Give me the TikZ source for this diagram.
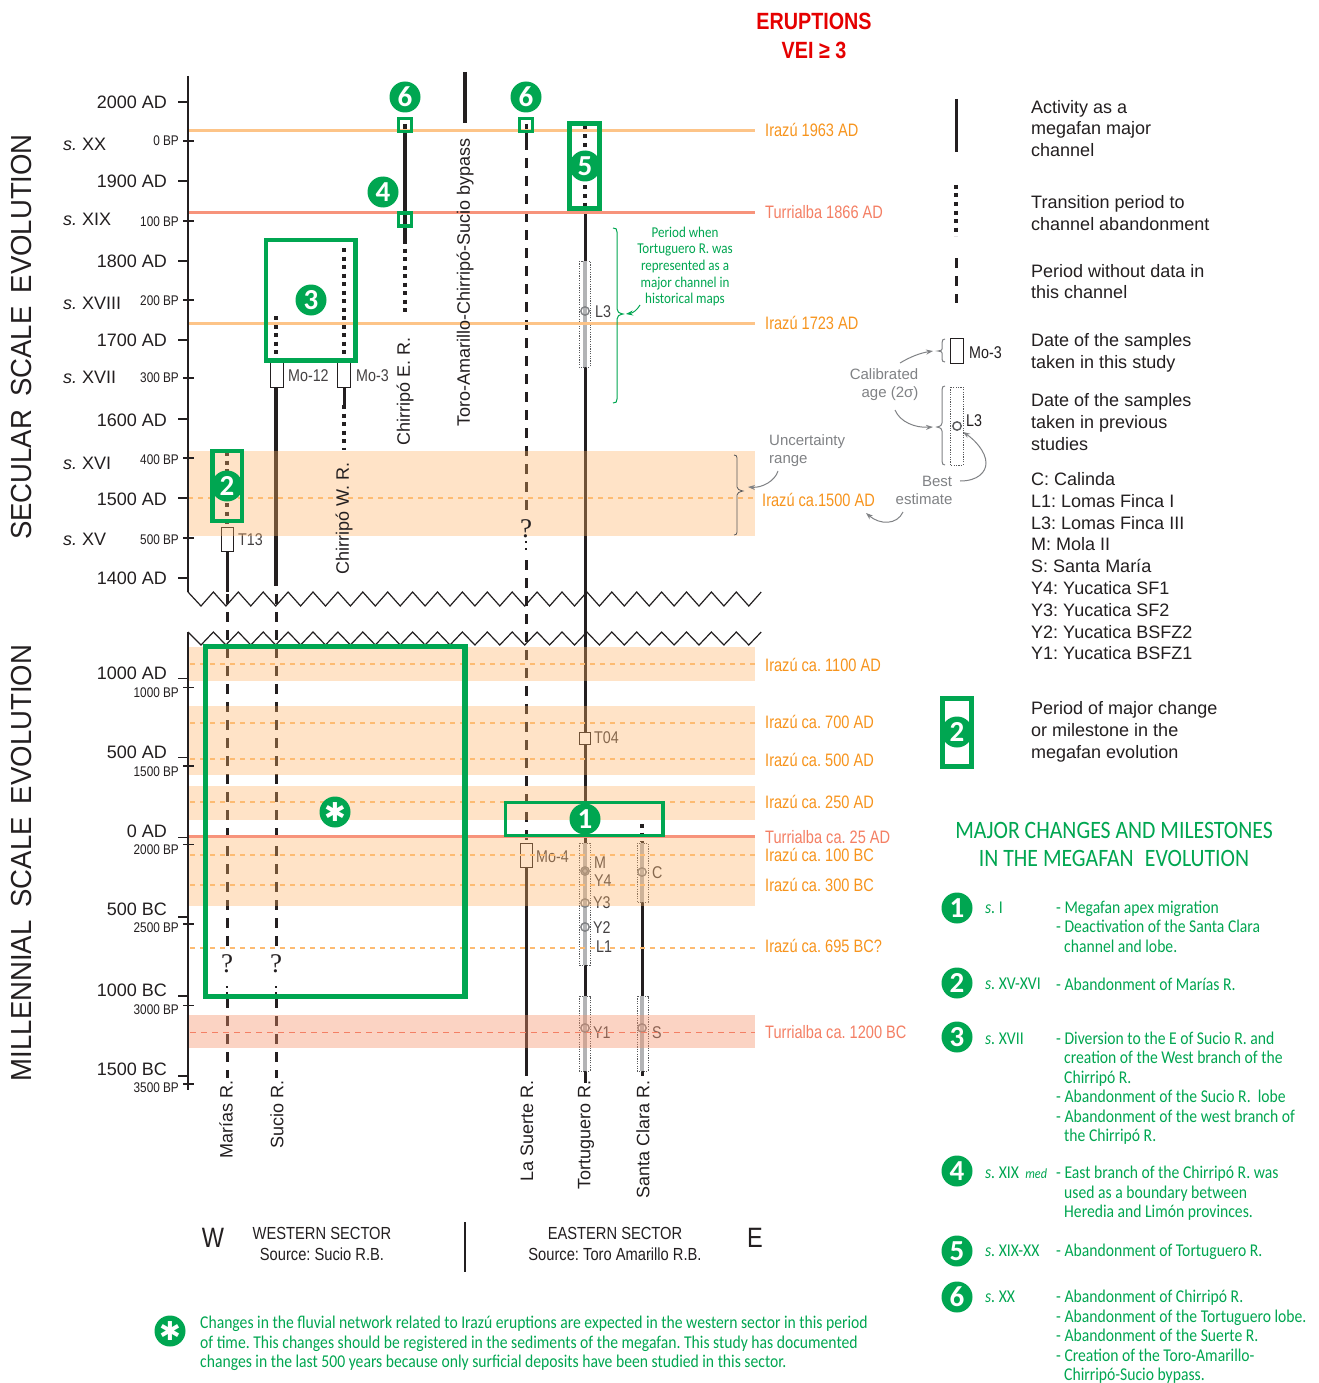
\documentclass[tikz,border=0pt]{standalone}
\usepackage{fontspec}
\setmainfont{Liberation Sans}
\newfontfamily\cnf[FakeStretch=0.84]{Liberation Sans}
\newfontfamily\onf[FakeStretch=0.81]{Liberation Sans}
\newfontfamily\bigf[FakeStretch=0.95]{Liberation Sans}
\newfontfamily\grf[FakeStretch=0.87]{Carlito}
\newfontfamily\bdf{Carlito}
\newfontfamily\srf{Liberation Serif}
\newfontfamily\djv{DejaVu Sans}
\usepackage{tikz}
\usetikzlibrary{arrows.meta}
\definecolor{gn}{HTML}{00A651}
\definecolor{ink}{HTML}{231F20}
\definecolor{og}{HTML}{F7941D}
\definecolor{tu}{HTML}{F47F64}
\definecolor{ol}{HTML}{FDC488}
\definecolor{od}{HTML}{FDBB72}
\definecolor{sl}{HTML}{F7937B}
\definecolor{bandc}{RGB}{255,176,99}
\definecolor{bandt}{RGB}{245,145,105}
\definecolor{gy}{HTML}{808285}
\definecolor{dg}{HTML}{58595B}
\newcommand\fz[1]{\fontsize{#1}{#1}\selectfont}
\newcounter{nc}
% \tl[style]{x}{y}{text}
\newcommand\tl[4][]{\stepcounter{nc}\node[txt,#1] (n\arabic{nc}) at (#2,#3) {#4};}
\newcommand\bdg[3]{\stepcounter{nc}\node[badge] (n\arabic{nc}) at (#1,#2) {#3};}
\tikzset{
 txt/.style={inner sep=0pt,anchor=west,text=ink,font=\fz{18}},
 ax/.style={txt,anchor=east,font=\fz{18}},
 bp/.style={txt,anchor=east,font=\cnf\fz{14}},
 rn/.style={txt,rotate=90,anchor=east,font=\fz{18}},
 orn/.style={txt,text=og,font=\onf\fz{18}},
 trn/.style={txt,text=tu,font=\onf\fz{18}},
 gt/.style={txt,text=gn,font=\grf\fz{18},text height=13pt,text depth=4pt,yshift=-1.5pt},
 smp/.style={txt,text=ink!85,font=\cnf\fz{17}},
 leg/.style={txt,font=\fz{18},text height=13pt,text depth=3.5pt,yshift=-2pt},
 gyt/.style={txt,text=gy,font=\fz{15},text height=11pt,text depth=3pt},
 badge/.style={circle,fill=gn,text=white,inner sep=0pt,minimum size=31pt,font=\bdf\bfseries\fz{29}},
 solidr/.style={ink,line width=3pt},
 thickr/.style={ink,line width=4pt},
 dashr/.style={ink,line width=3pt,dash pattern=on 10pt off 8pt},
 dotr/.style={ink,line width=3.5pt,dash pattern=on 4pt off 4.5pt},
 gb/.style={draw=gn,line width=4.5pt},
 dbox/.style={draw=dg,line width=.7pt,dash pattern=on 1.2pt off 1.2pt,fill=white},
 cal/.style={draw=ink,line width=1pt,fill=white},
 core/.style={draw=gy!60,line width=3.5pt},
 est/.style={draw=gy,line width=1.4pt},
 solv/.style={line width=3pt},
 odash/.style={od,line width=2.6pt,dash pattern=on 5pt off 5pt},
 grar/.style={gy,line width=1pt,-{Stealth[length=7pt,width=5pt]}},
 grnar/.style={gn,line width=1pt,-{Stealth[length=7pt,width=5pt]}},
}
\begin{document}
\frenchspacing
\begin{tikzpicture}[x=1pt,y=-1pt]
\useasboundingbox (0,0) rectangle (1318,1383);
\fill[white] (0,0) rectangle (1318,1383);

% rivers
\draw[dotr] (227,452) -- (227,527);
\draw[solidr] (227,551) -- (227,592);
\draw[dashr] (227,594) -- (227,952);
\draw[dashr] (227,998) -- (227,1078);
\draw[ink,line width=2.5pt,dash pattern=on 2pt off 4pt] (227,986) -- (227,994);
\draw[dotr] (276,316) -- (276,362);
\draw[thickr] (276,387) -- (276,586);
\draw[dashr] (276,594) -- (276,952);
\draw[dashr] (276,998) -- (276,1078);
\draw[ink,line width=2.5pt,dash pattern=on 2pt off 4pt] (276,986) -- (276,994);
\draw[dotr] (344,248) -- (344,362);
\draw[solidr] (344,387) -- (344,405);
\draw[dotr] (344,405) -- (344,450);
\draw[thickr] (405,124) -- (405,240);
\draw[dotr] (405,240) -- (405,316);
\draw[line width=3.5pt,ink] (465,72) -- (465,123);
\draw[solidr] (526,124) -- (526,140);
\draw[dashr] (526,140) -- (526,515);
\draw[ink,line width=2.5pt,dash pattern=on 2pt off 5pt] (526,541) -- (526,553);
\draw[dashr] (526,560) -- (526,843);
\draw[solidr] (526,867) -- (526,1076);
\draw[dotr] (585,126) -- (585,212);
\draw[solidr] (585,212) -- (585,1083);
\draw[dotr] (642,824) -- (642,842);
\draw[solidr] (642,842) -- (642,1076);

% sample boxes
\draw[dbox] (579,261) rectangle (590,367); \draw[core] (585,261) -- (585,367);
\draw[dbox] (579,843) rectangle (590,965); \draw[core] (585,843) -- (585,965);
\draw[dbox] (579,996) rectangle (590,1071); \draw[core] (585,996) -- (585,1071);
\draw[dbox] (637,843) rectangle (648,902); \draw[core] (642,843) -- (642,902);
\draw[dbox] (637,996) rectangle (648,1071); \draw[core] (642,996) -- (642,1071);
\draw[cal] (221,527) rectangle (233,551);
\draw[cal] (270.5,362) rectangle (283,387);
\draw[cal] (337.5,362) rectangle (350,387);
\draw[cal] (520,843) rectangle (532,867);
\draw[cal] (579,732) rectangle (590,744);
\foreach \p in {(585,311),(585,871),(585,903),(585,927),(585,1028),(642,872),(642,1028)} \draw[est] \p circle (4.2pt);
\draw[est] (585,871) circle (2.5pt);

% sample labels
\tl[smp]{288}{376}{Mo-12}
\tl[smp]{356}{376}{Mo-3}
\tl[smp]{238}{540}{T13}
\tl[smp]{595}{312}{L3}
\tl[smp]{594}{738}{T04}
\tl[smp]{536}{857}{Mo-4}
\tl[smp]{594}{863}{M}
\tl[smp]{594}{881}{Y4}
\tl[smp]{593}{903}{Y3}
\tl[smp]{593}{928}{Y2}
\tl[smp]{596}{947}{L1}
\tl[smp]{593}{1033}{Y1}
\tl[smp]{652}{873}{C}
\tl[smp]{652}{1033}{S}

% bands
\fill[bandc,fill opacity=.354] (188.5,451) rectangle (755,536);
\fill[bandc,fill opacity=.354] (188.5,647) rectangle (755,681);
\fill[bandc,fill opacity=.354] (188.5,706) rectangle (755,775);
\fill[bandc,fill opacity=.354] (188.5,786) rectangle (755,820);
\fill[bandc,fill opacity=.354] (188.5,836) rectangle (755,906);
\fill[bandt,fill opacity=.4] (188.5,1015) rectangle (755,1048);

% eruption lines
\draw[ol,line width=3pt] (188,131) -- (755,131);
\draw[sl,line width=3pt] (188,212) -- (755,212);
\draw[ol,line width=3pt] (188,323) -- (755,323);
\draw[odash] (188,498) -- (755,498);
\foreach \y in {664,723,759,802,855,885,948} \draw[odash] (190,\y) -- (755,\y);
\draw[sl,line width=3pt] (188,836) -- (755,836);
\draw[tu,line width=1pt,dash pattern=on 6pt off 5pt] (190,1032) -- (755,1032);

% axis and breaks
\draw[ink,line width=2pt] (188,76) -- (188,592);
\draw[ink,line width=1.4pt] (188,632) -- (188,1090);
\draw[ink,line width=1.2pt] (188,592) \foreach \i in {0,...,22} { -- ({201+24.9*\i},606) -- ({213.4+24.9*\i},592) };
\draw[ink,line width=1.2pt] (188,632) \foreach \i in {0,...,22} { -- ({201+24.9*\i},645) -- ({213.4+24.9*\i},632) };
\foreach \y in {102,181,261,340,419,498,578,678.5,757.5,837.5,917,996,1076} \draw[ink,line width=1.5pt] (178,\y) -- (189,\y);
\foreach \y in {141,221,300,378,458,538,687.5,766,844.5,924,1005.5,1084} \draw[ink,line width=1.5pt] (183,\y) -- (194,\y);
\tl[ax]{167}{102}{2000 AD}
\tl[ax]{167}{181}{1900 AD}
\tl[ax]{167}{261}{1800 AD}
\tl[ax]{167}{340}{1700 AD}
\tl[ax]{167}{420}{1600 AD}
\tl[ax]{167}{499}{1500 AD}
\tl[ax]{167}{578}{1400 AD}
\tl[ax]{167}{673}{1000 AD}
\tl[ax]{167}{752}{500 AD}
\tl[ax]{167}{831}{0 AD}
\tl[ax]{167}{909}{500 BC}
\tl[ax]{167}{990}{1000 BC}
\tl[ax]{167}{1069}{1500 BC}
\tl[bp]{179}{141}{0 BP}
\tl[bp]{179}{222}{100 BP}
\tl[bp]{179}{301}{200 BP}
\tl[bp]{179}{378}{300 BP}
\tl[bp]{179}{460}{400 BP}
\tl[bp]{179}{540}{500 BP}
\tl[bp]{179}{693}{1000 BP}
\tl[bp]{179}{772}{1500 BP}
\tl[bp]{179}{850}{2000 BP}
\tl[bp]{179}{928}{2500 BP}
\tl[bp]{179}{1010}{3000 BP}
\tl[bp]{179}{1088}{3500 BP}
\tl{63}{144}{\itshape s. \upshape XX}
\tl{63}{219}{\itshape s. \upshape XIX}
\tl{63}{303}{\itshape s. \upshape XVIII}
\tl{63}{377}{\itshape s. \upshape XVII}
\tl{63}{463}{\itshape s. \upshape XVI}
\tl{63}{539}{\itshape s. \upshape XV}
\tl[rotate=90,anchor=center,font=\bigf\fz{29}]{22}{337}{SECULAR\hspace{.45em}SCALE\hspace{.45em}EVOLUTION}
\tl[rotate=90,anchor=center,font=\bigf\fz{29}]{22}{863}{MILLENNIAL\hspace{.45em}SCALE\hspace{.45em}EVOLUTION}

% river names
\tl[rn]{226}{1080}{Marías R.}
\tl[rn]{277}{1080}{Sucio R.}
\tl[rn]{527}{1080}{La Suerte R.}
\tl[rn]{586}{1080}{Tortuguero R.}
\tl[rn]{643}{1080}{Santa Clara R.}
\tl[rn]{344}{462}{Chirripó W. R.}
\tl[rn]{405}{337}{Chirripó E. R.}
\tl[rn]{465}{138}{Toro-Amarillo-Chirripó-Sucio bypass}

% question marks
\tl[anchor=center,font=\srf\fz{27}]{526}{529}{?}
\tl[anchor=center,font=\srf\fz{27}]{227}{964}{?}
\tl[anchor=center,font=\srf\fz{27}]{276}{964}{?}

% eruption labels
\tl[anchor=center,text=red!90!black,font=\cnf\bfseries\fz{23.5}]{814}{21}{ERUPTIONS}
\tl[anchor=center,text=red!90!black,font=\cnf\bfseries\fz{23.5}]{814}{50}{VEI ≥ 3}
\tl[orn]{765}{130}{Irazú 1963 AD}
\tl[trn]{765}{212}{Turrialba 1866 AD}
\tl[orn]{765}{323}{Irazú 1723 AD}
\tl[orn]{762}{500}{Irazú ca.1500 AD}
\tl[orn]{765}{665}{Irazú ca. 1100 AD}
\tl[orn]{765}{722}{Irazú ca. 700 AD}
\tl[orn]{765}{760}{Irazú ca. 500 AD}
\tl[orn]{765}{802}{Irazú ca. 250 AD}
\tl[trn]{765}{837}{Turrialba ca. 25 AD}
\tl[orn]{765}{855}{Irazú ca. 100 BC}
\tl[orn]{765}{885}{Irazú ca. 300 BC}
\tl[orn]{765}{946}{Irazú ca. 695 BC?}
\tl[trn]{765}{1032}{Turrialba ca. 1200 BC}

% green period note
\draw[gn,line width=1pt] (613,228) .. controls (616,228) and (617,229) .. (617,232) -- (617,309) .. controls (617,312) and (619,313) .. (623,314) .. controls (619,315) and (617,316) .. (617,319) -- (617,399) .. controls (617,402) and (616,403) .. (613,403);
\draw[grnar] (640,305) .. controls (637,310) and (633,313) .. (626,314);
\tl[gt,anchor=center,font=\grf\fz{15}]{685}{231.5}{Period when}
\tl[gt,anchor=center,font=\grf\fz{15}]{685}{247.5}{Tortuguero R. was}
\tl[gt,anchor=center,font=\grf\fz{15}]{685}{264.5}{represented as a}
\tl[gt,anchor=center,font=\grf\fz{15}]{685}{281.5}{major channel in}
\tl[gt,anchor=center,font=\grf\fz{15}]{685}{297.5}{historical maps}

% uncertainty annotation
\draw[dg,line width=.8pt] (734,455) .. controls (736,455) and (737,456) .. (737,458) -- (737,487) .. controls (737,489) and (739,490) .. (743,491) .. controls (739,492) and (737,493) .. (737,495) -- (737,532) .. controls (737,534) and (736,535) .. (734,535);
\draw[grar] (778,471) .. controls (775,481) and (762,488) .. (748,487);
\tl[gyt]{769}{441}{Uncertainty}
\tl[gyt]{769}{459}{range}
\tl[gyt,anchor=center]{884}{375}{Calibrated}
\tl[gyt,anchor=center]{890}{393}{age (2σ)}
\tl[gyt,anchor=center]{937}{482}{Best}
\tl[gyt,anchor=center]{924}{500}{estimate}
\draw[grar] (903,512) .. controls (897,525) and (880,525) .. (866,513);
\draw[grar] (900,363) .. controls (910,357) and (920,353) .. (933,351);
\draw[grar] (895,410) .. controls (900,422) and (915,428) .. (933,427);
\draw[grar] (960,481) .. controls (978,481) and (986,472) .. (986,463) .. controls (986,452) and (975,440) .. (963,432);
\draw[gy,line width=1pt] (945,339) .. controls (943,339) and (942,340) .. (942,343) -- (942,349) .. controls (942,350) and (941,351) .. (938,351) .. controls (941,351) and (942,352) .. (942,353) -- (942,359) .. controls (942,361) and (943,362) .. (945,362);
\draw[gy,line width=1pt] (945,386) .. controls (943,386) and (942,387) .. (942,390) -- (942,423) .. controls (942,425) and (941,426) .. (937,427) .. controls (941,428) and (942,429) .. (942,431) -- (942,461) .. controls (942,464) and (943,465) .. (945,465);
\draw[ink,line width=1pt] (950,338) rectangle (963,363);
\draw[dbox] (950,387) rectangle (963,465);
\draw[est,dg] (957,426) circle (4.2pt);
\tl[smp,text=ink]{969}{353}{Mo-3}
\tl[smp,text=ink]{966}{421}{L3}

% legend
\draw[ink,solv] (956,99) -- (956,152);
\draw[dotr] (956,185) -- (956,236);
\draw[dashr] (956,258) -- (956,303);
\tl[leg]{1031}{107}{Activity as a}
\tl[leg]{1031}{128}{megafan major}
\tl[leg]{1031}{150}{channel}
\tl[leg]{1031}{202}{Transition period to}
\tl[leg]{1031}{224}{channel abandonment}
\tl[leg]{1031}{271}{Period without data in}
\tl[leg]{1031}{292}{this channel}
\tl[leg]{1031}{340}{Date of the samples}
\tl[leg]{1031}{362}{taken in this study}
\tl[leg]{1031}{400}{Date of the samples}
\tl[leg]{1031}{422}{taken in previous}
\tl[leg]{1031}{444}{studies}
\tl[leg]{1031}{479}{C: Calinda}
\tl[leg]{1031}{501}{L1: Lomas Finca I}
\tl[leg]{1031}{523}{L3: Lomas Finca III}
\tl[leg]{1031}{544}{M: Mola II}
\tl[leg]{1031}{566}{S: Santa María}
\tl[leg]{1031}{588}{Y4: Yucatica SF1}
\tl[leg]{1031}{610}{Y3: Yucatica SF2}
\tl[leg]{1031}{632}{Y2: Yucatica BSFZ2}
\tl[leg]{1031}{653}{Y1: Yucatica BSFZ1}
\tl[leg]{1031}{708}{Period of major change}
\tl[leg]{1031}{730}{or milestone in the}
\tl[leg]{1031}{752}{megafan evolution}
\draw[gb,line width=5pt] (942.5,698) rectangle (971.5,766);
\bdg{957}{732}{2}

% diagram green frames
\draw[gb,line width=5.5pt] (205.5,646.5) rectangle (465,996.5);
\draw[gb,line width=3.5pt] (505.5,802.5) rectangle (663,835.5);
\draw[gb] (212.5,451) rectangle (242,521);
\draw[gb] (266,240) rectangle (355.5,360.5);
\draw[gb,line width=5pt] (569.5,123.5) rectangle (599.5,208.5);
\draw[gn,line width=3.2pt] (398.5,118.5) rectangle (411.5,131.5);
\draw[gn,line width=3.2pt] (398.5,213) rectangle (411.5,226);
\draw[gn,line width=3.2pt] (519.5,118.5) rectangle (532.5,131.5);
\bdg{405}{97}{6}
\bdg{526}{97}{6}
\bdg{383}{192}{4}
\bdg{585}{166}{5}
\bdg{311}{300}{3}
\bdg{227}{486}{2}
\bdg{585}{819}{1}
\stepcounter{nc}\node[badge,font=\djv\bfseries\fz{26}] (n\arabic{nc}) at (335,812) {✱};

% milestones
\tl[gt,anchor=center,font=\grf\fz{25}]{1114}{832.5}{MAJOR CHANGES AND MILESTONES}
\tl[gt,anchor=center,font=\grf\fz{25}]{1114}{860.5}{IN THE MEGAFAN\hspace{.45em}EVOLUTION}
\bdg{957}{908}{1}
\bdg{957}{983}{2}
\bdg{957}{1037}{3}
\bdg{957}{1171}{4}
\bdg{957}{1251}{5}
\bdg{957}{1297}{6}
\tl[gt]{985}{907}{\itshape s. \upshape I}
\tl[gt]{985}{983}{\itshape s. \upshape XV-XVI}
\tl[gt]{985}{1038}{\itshape s. \upshape XVII}
\tl[gt]{985}{1172}{\itshape s. \upshape XIX {\itshape\fz{14} med}}
\tl[gt]{985}{1250}{\itshape s. \upshape XIX-XX}
\tl[gt]{985}{1296}{\itshape s. \upshape XX}
\tl[gt]{1056}{907}{- Megafan apex migration}
\tl[gt]{1056}{926}{- Deactivation of the Santa Clara}
\tl[gt]{1064}{946}{channel and lobe.}
\tl[gt]{1056}{984}{- Abandonment of Marías R.}
\tl[gt]{1056}{1038}{- Diversion to the E of Sucio R. and}
\tl[gt]{1064}{1057}{creation of the West branch of the}
\tl[gt]{1064}{1077}{Chirripó R.}
\tl[gt]{1056}{1096}{- Abandonment of the Sucio R.\ \ lobe}
\tl[gt]{1056}{1116}{- Abandonment of the west branch of}
\tl[gt]{1064}{1135}{the Chirripó R.}
\tl[gt]{1056}{1172}{- East branch of the Chirripó R. was}
\tl[gt]{1064}{1192}{used as a boundary between}
\tl[gt]{1064}{1211}{Heredia and Limón provinces.}
\tl[gt]{1056}{1250}{- Abandonment of Tortuguero R.}
\tl[gt]{1056}{1296}{- Abandonment of Chirripó R.}
\tl[gt]{1056}{1316}{- Abandonment of the Tortuguero lobe.}
\tl[gt]{1056}{1335}{- Abandonment of the Suerte R.}
\tl[gt]{1056}{1355}{- Creation of the Toro-Amarillo-}
\tl[gt]{1064}{1374}{Chirripó-Sucio bypass.}

% sectors
\tl[anchor=center,font=\cnf\fz{28}]{213}{1238}{W}
\tl[anchor=center,font=\cnf\fz{28}]{755}{1238}{E}
\tl[anchor=center,font=\cnf\fz{17.5}]{322}{1233}{WESTERN SECTOR}
\tl[anchor=center,font=\cnf\fz{17.5}]{322}{1254}{Source: Sucio R.B.}
\tl[anchor=center,font=\cnf\fz{17.5}]{615}{1233}{EASTERN SECTOR}
\tl[anchor=center,font=\cnf\fz{17.5}]{615}{1254}{Source: Toro Amarillo R.B.}
\draw[ink,line width=2pt] (465,1222) -- (465,1272);

% footnote
\stepcounter{nc}\node[badge,font=\djv\bfseries\fz{26}] (n\arabic{nc}) at (170,1331) {✱};
\tl[gt]{200}{1322}{Changes in the fluvial network related to Irazú eruptions are expected in the western sector in this period}
\tl[gt]{200}{1342}{of time. This changes should be registered in the sediments of the megafan. This study has documented}
\tl[gt]{200}{1361}{changes in the last 500 years because only surficial deposits have been studied in this sector.}
\end{tikzpicture}
\end{document}
